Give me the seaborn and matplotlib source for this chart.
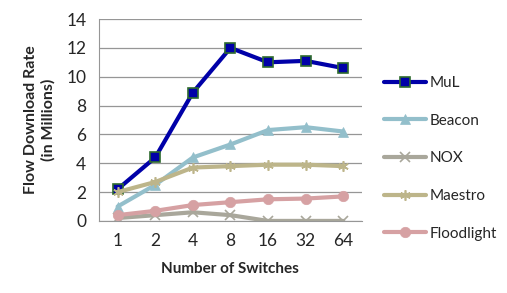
import pandas as pd
import numpy as np
import matplotlib.pyplot as plt
import seaborn as sns

switches = ["1", "2", "4", "8", "16", "32", "64"]
mul = [2.2, 4.4, 8.9, 12.0, 11.0, 11.1, 10.6]
beacon = [1.0, 2.5, 4.4, 5.3, 6.3, 6.5, 6.2]
nox = [0.2, 0.4, 0.6, 0.4, 0.0, 0.0, 0.0]
maestro = [2.0, 2.7, 3.7, 3.8, 3.9, 3.9, 3.8]
floodlight = [0.4, 0.7, 1.1, 1.3, 1.5, 1.55, 1.7]

series = {"MuL": mul, "Beacon": beacon, "NOX": nox, "Maestro": maestro, "Floodlight": floodlight}
colors = {"MuL": "#0000A8", "Beacon": "#93BFCB", "NOX": "#A9A79B", "Maestro": "#BDB58A", "Floodlight": "#D6A1A3"}
markers = {"MuL": "s", "Beacon": "^", "NOX": "x", "Maestro": (6, 2, 0), "Floodlight": "o"}

df = pd.concat([pd.DataFrame({"Switches": switches, "Rate": v, "Controller": k}) for k, v in series.items()])

sns.set_style("white")
plt.rcParams["font.family"] = ["Lato", "DejaVu Sans"]

fig = plt.figure(figsize=(5.07, 2.93), dpi=100)
ax = fig.add_axes([0.195, 0.246, 0.519, 0.689])

for name in series:
    sub = df[df["Controller"] == name]
    edge = "#2E6B2E" if name == "MuL" else colors[name]
    sns.lineplot(data=sub, x="Switches", y="Rate", ax=ax, color=colors[name], linewidth=3,
                 marker=markers[name], markersize=7.5, markeredgecolor=edge,
                 markeredgewidth=1.2 if name in ("MuL", "NOX", "Maestro") else 0.5,
                 label=name, sort=False)

ax.set_ylim(0, 14)
ax.set_yticks(range(0, 15, 2))
ax.set_xlim(-0.5, 6.5)
ax.yaxis.grid(True, color="#969696", linewidth=0.9)
ax.set_axisbelow(True)
for s in ["top", "right"]:
    ax.spines[s].set_visible(False)
for s in ["left", "bottom"]:
    ax.spines[s].set_color("#969696")
ax.tick_params(axis="y", length=4, color="#969696", labelsize=12.5, pad=5)
ax.tick_params(axis="x", length=0, labelsize=12.5, pad=9)
ax.set_xlabel("Number of Switches", fontsize=11, fontweight="bold", labelpad=9)
ax.set_ylabel("Flow Download Rate\n(in Millions)", fontsize=11.5, fontweight="bold", labelpad=8)

ax.legend(loc="center left", bbox_to_anchor=(1.03, 0.31), frameon=False, fontsize=11,
          handlelength=2.8, labelspacing=1.55, handletextpad=0.2)

fig.savefig("out.png", dpi=100)
